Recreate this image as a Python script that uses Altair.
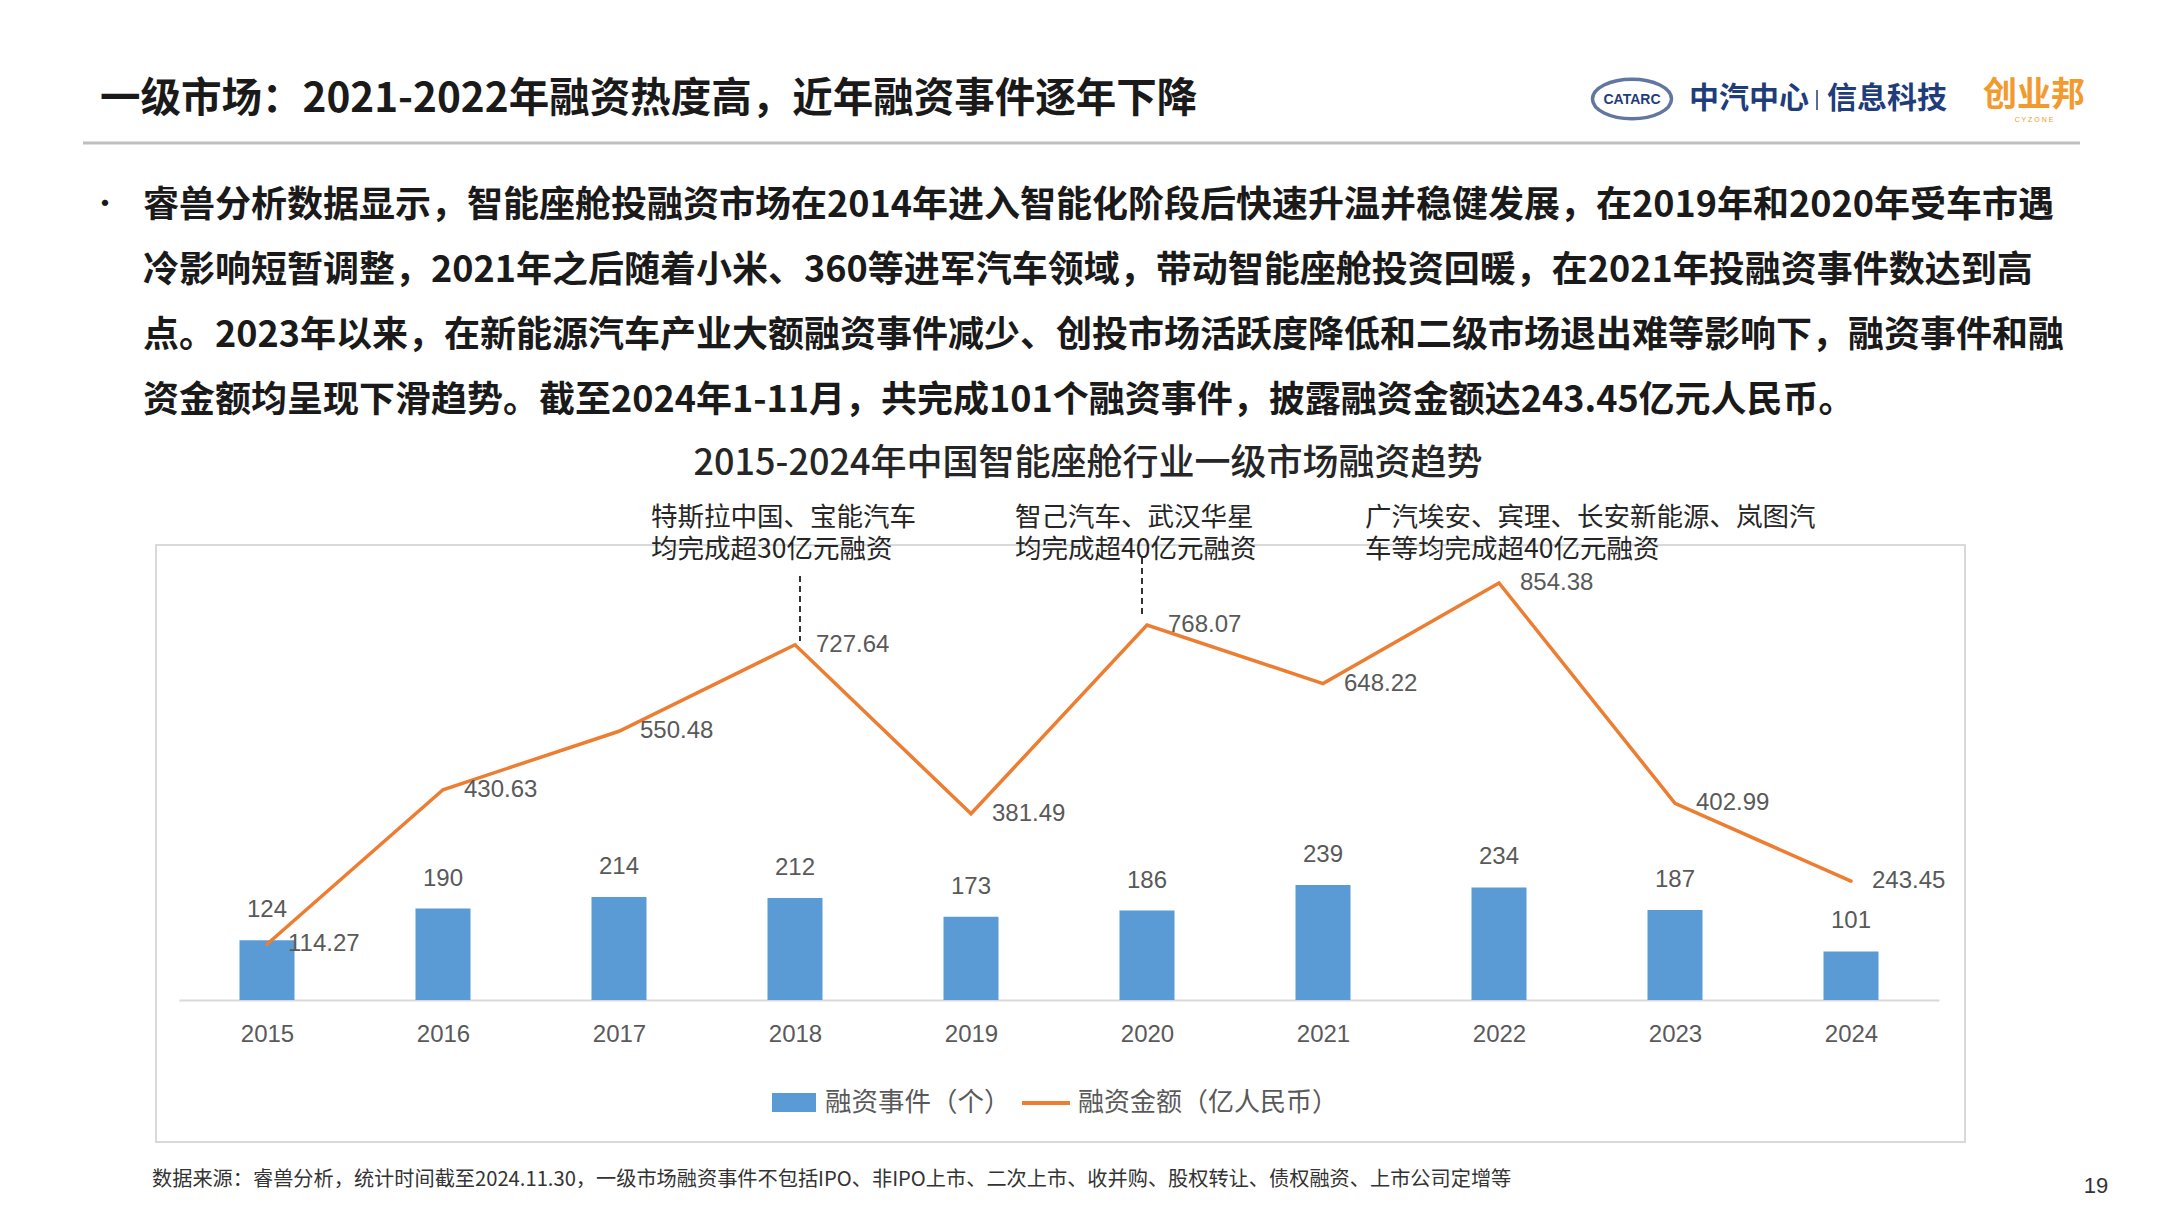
import altair as alt
import pandas as pd

# ---------------- data ----------------
years = ["2015", "2016", "2017", "2018", "2019", "2020", "2021", "2022", "2023", "2024"]
events = [124, 190, 214, 212, 173, 186, 239, 234, 187, 101]
amounts = [114.27, 430.63, 550.48, 727.64, 381.49, 768.07, 648.22, 854.38, 402.99, 243.45]

page_title = "一级市场：2021-2022年融资热度高，近年融资事件逐年下降"
bullet_lines = [
    "睿兽分析数据显示，智能座舱投融资市场在2014年进入智能化阶段后快速升温并稳健发展，在2019年和2020年受车市遇",
    "冷影响短暂调整，2021年之后随着小米、360等进军汽车领域，带动智能座舱投资回暖，在2021年投融资事件数达到高",
    "点。2023年以来，在新能源汽车产业大额融资事件减少、创投市场活跃度降低和二级市场退出难等影响下，融资事件和融",
    "资金额均呈现下滑趋势。截至2024年1-11月，共完成101个融资事件，披露融资金额达243.45亿元人民币。",
]
chart_title = "2015-2024年中国智能座舱行业一级市场融资趋势"
notes = [
    ["特斯拉中国、宝能汽车", "均完成超30亿元融资"],
    ["智己汽车、武汉华星", "均完成超40亿元融资"],
    ["广汽埃安、宾理、长安新能源、岚图汽", "车等均完成超40亿元融资"],
]
legend_labels = ["融资事件（个）", "融资金额（亿人民币）"]
footnote = "数据来源：睿兽分析，统计时间截至2024.11.30，一级市场融资事件不包括IPO、非IPO上市、二次上市、收并购、股权转让、债权融资、上市公司定增等"
page_no = "19"

df = pd.DataFrame({"year": years, "events": events, "amount": amounts})
df["amount_label"] = [f"{v:.2f}" for v in amounts]

# ---------------- layout ----------------
CJK = "Noto Sans CJK SC"
NUM = "Liberation Sans"
BLUE = "#5B9BD5"
ORANGE = "#ED7D31"
GREY = "#595959"
NAVY = "#1F3D7A"

OX, OY = 179, 566          # plot origin in page-image coordinates
PW, PH = 1760, 434


def px(x):
    return x - OX


def py(y):
    return y - OY


one = pd.DataFrame({"k": [0]})


def txt(text, x, y, size, color, weight="normal", align="left", font=CJK, baseline="middle", lh=None):
    kw = dict(text=text, fontSize=size, color=color, fontWeight=weight,
              align=align, baseline=baseline, font=font)
    if lh is not None:
        kw["lineHeight"] = lh
    return alt.Chart(one).mark_text(**kw).encode(x=alt.value(px(x)), y=alt.value(py(y)))


xenc = alt.X(
    "year:N", sort=years, title=None,
    scale=alt.Scale(type="point", padding=0.5),
    axis=alt.Axis(labelAngle=0, labelFont=NUM, labelFontSize=24, labelColor=GREY,
                  ticks=False, domainColor="#D9D9D9", domainWidth=2,
                  labelPadding=22, grid=False),
)
ybar = alt.Y("events:Q", scale=alt.Scale(domain=[0, 902], nice=False), axis=None)
yline = alt.Y("amount:Q", scale=alt.Scale(domain=[0, 889], nice=False), axis=None)

base = alt.Chart(df)

frame = alt.Chart(one).mark_rect(fillOpacity=0, stroke="#D9D9D9", strokeWidth=2).encode(
    x=alt.value(px(156)), x2=alt.value(px(1965)), y=alt.value(py(545)), y2=alt.value(py(1142)))

bars = base.mark_bar(size=55, color=BLUE).encode(x=xenc, y=ybar)
bar_labels = base.mark_text(fontSize=24, font=NUM, color=GREY, baseline="middle", dy=-30).encode(
    x=xenc, y=ybar, text="events:Q")

line = base.mark_line(color=ORANGE, strokeWidth=3.5, strokeCap="round", strokeJoin="miter").encode(
    x=xenc, y=yline)
line_labels = base.mark_text(fontSize=24, font=NUM, color=GREY, align="left", baseline="middle", dx=21).encode(
    x=xenc, y=yline, text="amount_label:N")

rule18 = alt.Chart(one).mark_rule(color="#333333", strokeWidth=2, strokeDash=[6, 4]).encode(
    x=alt.value(px(800)), y=alt.value(py(576)), y2=alt.value(py(641)))
rule20 = alt.Chart(one).mark_rule(color="#333333", strokeWidth=2, strokeDash=[6, 4]).encode(
    x=alt.value(px(1142)), y=alt.value(py(558)), y2=alt.value(py(616)))

layers = [frame, bars, line, bar_labels, line_labels, rule18, rule20]

# annotations (two-line blocks)
note_x = [651, 1015, 1365]
for nx, lines in zip(note_x, notes):
    layers.append(txt(lines, nx, 505, 26.5, "#262626", baseline="top", lh=32))

# titles and header
layers.append(txt(page_title, 100, 100, 40.5, "#1A1A1A", weight="bold"))
layers.append(alt.Chart(one).mark_rule(color="#BFBFBF", strokeWidth=3).encode(
    x=alt.value(px(83)), x2=alt.value(px(2080)), y=alt.value(py(143))))

# logos
ellipse = "M-1,0A1,0.5,0,1,1,1,0A1,0.5,0,1,1,-1,0Z"
layers.append(alt.Chart(one).mark_point(shape=ellipse, size=6241, filled=False, stroke=NAVY, strokeWidth=3.5).encode(
    x=alt.value(px(1632)), y=alt.value(py(99))))
layers.append(txt("CATARC", 1632, 100, 14, NAVY, weight="bold", align="center", font=NUM))
layers.append(txt("中汽中心", 1689, 99, 30, NAVY, weight="bold"))
layers.append(alt.Chart(one).mark_rule(color=NAVY, strokeWidth=1.5).encode(
    x=alt.value(px(1817)), y=alt.value(py(90)), y2=alt.value(py(110))))
layers.append(txt("信息科技", 1827, 99, 30, NAVY, weight="bold"))
layers.append(txt("创业邦", 1983, 96, 34, "#F39A2E", weight="bold"))
layers.append(txt("C  Y  Z  O  N  E", 2034, 120, 7, "#F39A2E", align="center", font=NUM))

# bullet paragraph
layers.append(txt("•", 105, 205, 30, "#1A1A1A", align="center"))
for i, ln in enumerate(bullet_lines):
    layers.append(txt(ln, 143, 206 + 65 * i, 36, "#1A1A1A", weight="bold"))

layers.append(txt(chart_title, 1088, 464, 36, "#262626", weight=500, align="center"))

# legend
layers.append(alt.Chart(one).mark_rect(color=BLUE).encode(
    x=alt.value(px(772)), x2=alt.value(px(816)), y=alt.value(py(1093)), y2=alt.value(py(1112))))
layers.append(txt(legend_labels[0], 825, 1103, 26.5, GREY))
layers.append(alt.Chart(one).mark_rule(color=ORANGE, strokeWidth=4).encode(
    x=alt.value(px(1022)), x2=alt.value(px(1070)), y=alt.value(py(1103))))
layers.append(txt(legend_labels[1], 1078, 1103, 26, GREY))

# footnote and page number
layers.append(txt(footnote, 152, 1180, 20.2, "#333333"))
layers.append(txt(page_no, 2096, 1186, 22, "#333333", align="center", font=NUM))

chart = alt.layer(*layers).resolve_scale(y="independent").properties(
    width=PW, height=PH,
    autosize=alt.AutoSizeParams(type="none"),
    padding={"left": OX - 8, "top": OY - 8, "right": 2144 - (OX - 8) - PW, "bottom": 1200 - (OY - 8) - PH},
    background="white",
).configure_view(strokeWidth=0)

chart.save("out.html", embed_options={"renderer": "svg", "actions": False})
